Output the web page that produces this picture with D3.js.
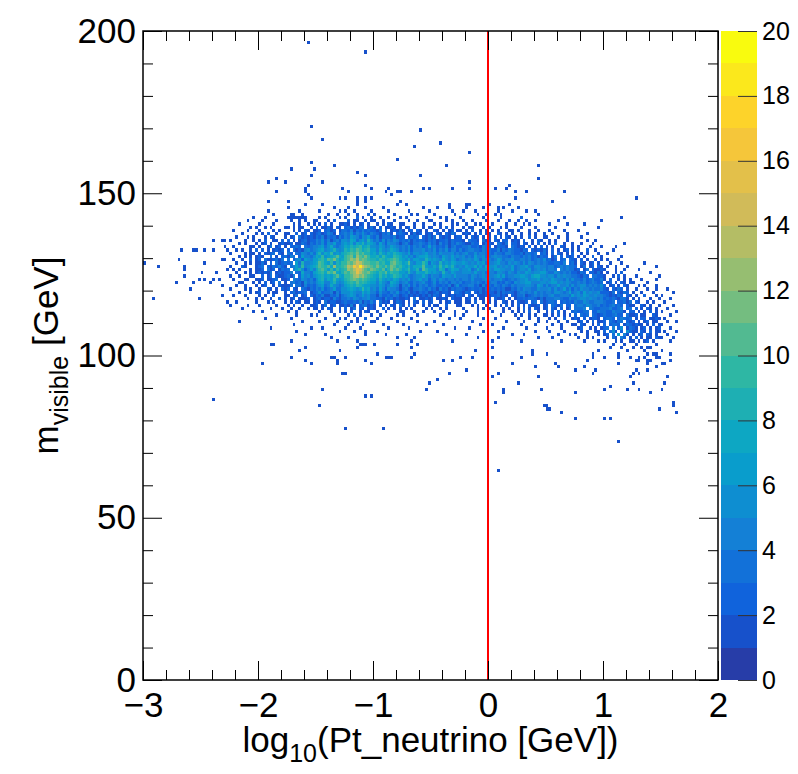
<!DOCTYPE html>
<html>
<head>
<meta charset="utf-8">
<script src="https://cdn.jsdelivr.net/npm/d3@7"></script>
<style>
  body { margin: 0; background: #fff; }
  text { font-family: "Liberation Sans", Arial, Helvetica, sans-serif; }
</style>
</head>
<body>
<div id="chart"></div>
<script>
/* CONSTANTS AND GLOBALS */
const width = 798;
const height = 774;
const frame = { left: 143, right: 718, top: 31, bottom: 680 };
const bar = { left: 721, right: 757 };

// histogram binning
const xMin = -3, xMax = 2, nBinsX = 200;
const yMin = 0, yMax = 200, nBinsY = 200;
const zMax = 20, nLevels = 20;

const xTicks = [-3, -2, -1, 0, 1, 2];
const yTicks = [0, 50, 100, 150, 200];
const zTicks = [0, 2, 4, 6, 8, 10, 12, 14, 16, 18, 20];

// ROOT kBird palette
const birdStops = [0.0, 0.125, 0.25, 0.375, 0.5, 0.625, 0.75, 0.875, 1.0];
const birdRed   = [0.2082, 0.0592, 0.0780, 0.0232, 0.1802, 0.5301, 0.8186, 0.9956, 0.9764];
const birdGreen = [0.1664, 0.3599, 0.5041, 0.6419, 0.7178, 0.7492, 0.7328, 0.7862, 0.9832];
const birdBlue  = [0.5293, 0.8684, 0.8385, 0.7914, 0.6425, 0.4662, 0.3499, 0.1968, 0.0539];

// bin counts, one string per y bin (from bin 146 down to 104), starting at x bin 30
// '.' = 0, '1'..'9', 'a' = 10 ... 'k' = 20 ; spaces only group 10 bins
const gridTopBin = 146;
const gridLeftBin = 30;
const gridRows = [
  ".......... .......... ......1... ..1....... ....1..... ........1. .1........ ......1... ...1...... .......... .......... .......... .......... .......... .......... ......",
  ".......... .......... 1......... ......1... .1.....1.. ...1...... .......1.. ..1....... ........1. .....1.... .......... .......... .......... .......... .......... ......",
  ".......... ...1...... ....1..... .1......1. 1..1.....1 .....1.... ..1......1 .......1.. .1...1.... ........1. ...1...... .......... .......... .......... .......... ......",
  ".......... .....1.... .11..1.... ....1..1.. .1..1...2. 1......1.. ...1.1.... .1......1. ......1..1 ..1....... .......1.. .......... .......... .......... .......... ......",
  "........1. ..1....... 1111111... .1.1....1. 1...2.1..1 ..1..1...1 .1......1. ...1.1.... 1.......1. ....1..... .1........ ......1... .......... .......... .......... ......",
  "......1... .1....1... .1..1.1..1 1...1.2... .2.11..1.1 1..1...1.. ..1..1...1 1....1.1.. .1..1....1 ...1...1.. 1.....1... ....1..... .........1 .......... .......... ......",
  "...1...... 1....1.... ..1.1..1.1 .1.2.1..11 21.1.12.1. .1.1.21..1 1...1..1.. .1.1...1.1 ..1..1.1.. .1....1..1 ..1.1..... .1.....1.. ...1...... .......... .......... ......",
  ".......1.1 ..1.1....1 1.1.11..1. 2.1131.21. 2312132.13 1.2.1121.1 .12.1..1.1 1..1.2.1.. .1.11...1. 1...1.1... .1....1... ...1...... ........1. .......... .......... ......",
  ".1....1... 1....1.1.. ..1.1.21.1 12.2312.13 3241324232 213.2.1213 1.12.21.1. .21.1.12.1 1.1.2..1.1 .1.1...11. 1...1..1.. .1....1... .1........ .......... .......... ......",
  "....1....1 .1.2..1..1 1..2.12.21 2312431.23 4352435324 3213241.23 21.1312.12 1.21.2132. .121.1.2.1 1..21.1.1. .1..1.1..1 ..1....1.. ....1..... .......... .......... ......",
  "..1...1.1. ..1.21...1 .12.312121 3241323142 4365425463 2413332412 2.1323.213 13.2121.12 2.1.212.1. 1.2.1.21.1 .1..2.1..1 1...1..1.. ..1....... .......... .......... ......",
  "1....1..1. 1.2..11.2. 2.1.123122 4352413425 5476356485 3425243542 3241323213 2312231322 21.3221.31 1.21.22.12 1.2..1.21. .1.1...1.. ....1..1.. .......... .......... ......",
  "...1.1...1 .12.1..121 12.1132132 4352546335 6574768576 5364254431 3421334324 2314231324 3211322.13 21.3213.22 1.21.1.2.1 .1.2..1..1 ..1...1... .......1.. .......... ......",
  ".1.....11. 1..13.12.1 .2232.3234 4563574345 7687896785 5465346543 4352434236 3423241342 2334223143 2.13221.32 121.2.1.2. 1.1..21..1 .1...1...1 ....1..... .......... ......",
  "..1.1..1.2 .2.1.1212. 2.31214534 5674568545 8798a97896 6475457653 4352444534 3524352442 4234433243 3224132432 2132.21213 1.2.1.12.1 .1..2..1.. ...1...... .......... ......",
  "1....1.11. 1.2123.21. 32.3254353 6857695657 89a9b9a886 7586576876 5463554564 4535444534 3453353443 3243324432 2313323.23 1.2.21.1.2 ..1.1...1. .1........ .......... ......",
  "...1.1.1.1 21..3.1.23 143.264435 7695678a76 9ab8ca9b97 7869766987 5645356675 4543654645 4534364453 3454433243 3243423132 2.13.2.212 .1.1..2..1 ......1... .......... ......",
  ".1..1..2.1 2.3112313. 3.24526546 6897a9b867 9acbdaba98 8798789a97 6574665586 5654754653 4545465354 4346534453 3443423435 2312.23.32 1.2.1..1.1 .1...1.... .......... ......",
  "..1..1.1.1 131.2.3123 23.6384456 7a97695879 9bacedbaa9 9a8977ab98 67a5466973 6548565765 5654546563 4456443545 4353543434 3223324.23 1.21.12.1. ..1...1... ....1..... ......",
  "1...21...1 23.2132421 .346494567 8a98a7c889 adcgeiecba 9b98a8ba89 7685777a65 5759686854 5465574647 5564545463 4556435544 3442343433 2.13.12.21 .1..1...1. ........1. ......",
  ".1.1...1.1 12.312.132 3.46852464 79a8696978 9cbdfeca9b a98a68b9a8 6795684a86 6648735766 4556347556 5466554463 4554634545 3443.43433 12.13.2112 1...1..1.. ..1....... ......",
  "..1..1.1.1 21213.1212 24.3274436 7897a9b768 a9bcfdbab9 8798a79886 6585476686 5654854654 4555464453 4435543543 5446545566 4335434342 2132.22131 .1..1.2... ......1... ......",
  "1..1...11. .2.13.2112 314.264535 6786768a76 99acdbca98 7697867987 5643455753 5443655464 4443543454 4456463445 5665467755 4553545443 32132.3322 1..1.2.1.. .1.......1 ......",
  ".1...11..1 12.1123.11 2.43254342 5785769656 89aba9a987 7586565764 5463456452 4535434434 3443533345 4344532343 4556455645 5465443535 3324234224 1.2..1.1.1 ...1....1. ......",
  "...11...1. 1.2.12.3.1 .342315343 5674468545 7898a89876 6475437653 4532434532 3524342443 4233434324 3442324325 4556644455 4566454543 3434234323 .12.1.21.1 1....1.... ......",
  "..1..1...1 .12..1.211 13.3314232 4563475434 6787987665 5465346541 4352424342 3422324135 2334423142 3243243243 4445543653 5344644535 3455343435 2.12.1.21. ..1.1...1. ......",
  "1....1.1.. 1..21.1.21 2.21.32132 4352346335 5676569674 5364254431 3421334324 2314231323 3212322313 2323231132 4354433544 4535346352 4354434334 21.2132.1. .1...1..1. ..1...",
  "...1...1.1 2..1.11..1 .231223.12 3523341425 5565447564 4253324352 3241213231 1231221.33 2132.21312 2213132321 3443435343 4435543463 4536454452 2213.2132. 1..1...1.. ....1.",
  ".1...1.... 1.1..2...1 1.13.12.21 3241132413 4565346453 3142232431 2312121213 1321.21212 21.21.2112 1223121.21 3341234343 3453344436 4546544544 3212132.21 .1..2...1. 1.....",
  "......1..1 .1..1..2.1 .12.1112.1 2312214213 3435434453 3221423121 121.3.1121 2.1121.211 1.12.1.11. 1.2112.1.1 2232332131 3334432243 3455454434 232321331. 1.1...1..1 ...1..",
  "..1......1 ...1.1...1 .1.21.11.1 21.3122112 3223241324 2.3121.132 1.1.21.2.1 2..1.12.11 1.11.2..1. 1.1..21.1. 2112.23.31 2332.23232 4335433444 3223.22313 .21..1.1.. .1....",
  "1.....1... 1.....1... 1.1..1..11 2.13.12.11 2141.23312 1.2.1.21.3 1.2.1..1.1 .11..2...1 1...1.1..1 ..1.1.2.1. 2.1.2112.1 2.3213.22. 3443543342 3234232.21 1..21.1..1 ....1.",
  "....1..... ....1...1. .1..1..1.1 1.1.21..1. 2.13.21.12 1..2.1.1.1 .1.1....1. 1..1.1.... .1....1.1. 1....1.1.. 1.2.1.21.1 2.21.2.13. 3334.43223 3342234.23 .2.1.21.1. ..1...",
  "........1. .1........ 1..1...... .1...1..1. 1.2..1.21. .1..1....1 1...1..1.. .1..1...1. ..1...1... .1...1..1. 1.1.2..1.. 1.2.2.1..2 32233.2243 32243331.2 2.1.1.2.1. 1....1",
  ".......... ......1... ...1....1. 1.....1... .1.2.1...1 ..1.....1. 1....1.... ...1....1. .1....1... ....1....1 .1..1.1..1 1.1.2.1.1. 2.323.3212 3223422.31 12.11..21. ...1..",
  ".......... ..1....... .1........ ...1....1. 1...1..2.. .1....1... ...1...... ......1... 1.......1. ..1....... 1...1..1.. .1.1..2..1 21.2.1221. 2332.24323 .1.22.1121 .1....",
  "...1...... .......... .....1.... .1.....1.. ..1.1....1 1.......1. .....1.... .1........ ....1..... ......1... ..1....1.. 1...1..1.. .12.1.2.11 2.32133.21 2.1.12.11. ..1..1",
  ".......... .......... ..1....... ......1... .1....1... ...1...... 1.......1. ....1..... .......1.. .1........ .1....1... ..1..1...1 1.21..1.2. 2.2332.132 1211.1.2.1 1.....",
  ".......... ....1..... ........1. ..1....... 1....1.... .....1.... ..1....... ........1. ...1...... .....1.... ...1...... 1....1.... .12..1.1.1 23.4.25.13 21.12.1.12 ...1..",
  ".......... .......... ...1...... ........1. ...1...1.. .1........ ......1... ..1....... ........1. ...1...... ......1... .1....1... ..1.1..11. 2.351.2.52 11.21.2.11 .1...1",
  ".......... .......... ......1... ...1...... .......1.. ....1..... .1........ .....1.... ..1....... ........1. ..1....... ....1...1. 1...1...1. 12.3.6.41. 1.12.21.1. ..1...",
  ".......... .......... .......... .....1.... .1........ ........1. ....1..... .......... ......1... ...1...... .......1.. ..1....... .1..1.1... .1.31.42.1 .2.1.11.21 1...1.",
  ".......... .......... .1........ .......1.. ....1..... .......... ...1...... .......1.. .......... .1........ .1........ .....1.... ...1....1. 1...1.1..1 1.1.12.1.. ...1.."
];

// isolated single-entry bins outside the block above: [x bin, y bin]
const singleBins = [
  // high tail
  [57,196],[77,193],[58,170],[96,169],[62,166],[103,165],[94,164],[113,162],[88,160],[58,159],
  [66,158],[105,158],[137,158],[51,157],[59,157],[74,156],[58,155],[77,155],[96,155],[46,154],
  [137,154],[43,153],[49,153],[62,153],[113,153],[57,152],[77,152],[127,152],[56,151],[69,151],
  [79,151],[85,151],[97,151],[99,151],[107,151],[113,151],[122,151],[126,151],[46,150],[56,150],
  [71,150],[84,150],[88,150],[89,150],[93,150],[129,150],[133,150],[146,150],[57,149],[86,149],
  [58,148],[68,148],[70,148],[74,148],[77,148],[79,148],[129,148],[171,148],
  [43,147],[50,147],[74,147],[77,147],[89,147],[142,147],
  [112,146],[120,146],[127,146],[106,145],[112,145],[123,145],[130,145],[123,144],[136,144],
  [124,143],[131,142],[166,142],[133,141],
  // far left
  [0,128],[5,127],[3,117],[11,122],[12,129],[13,132],[14,127],[14,126],[14,124],[17,132],
  [18,132],[17,122],[16,120],[19,117],[20,125],[19,123],[21,123],[21,128],[21,132],[23,122],
  [24,132],[24,135],[24,123],[25,125],[26,123],[27,135],[28,135],[27,129],[28,129],[27,118],
  [28,133],[29,132],[27,121],[29,116],[29,126],[24,86],
  // low tail, left of zero
  [44,103],[45,103],[75,103],[76,103],[77,103],[80,103],[88,103],[95,103],
  [56,102],[74,102],[93,102],[54,101],[68,101],[115,101],[81,100],[94,100],
  [51,99],[65,99],[66,99],[70,99],[84,99],[85,99],[86,99],[93,99],[110,99],[114,99],
  [56,98],[67,98],[77,98],[104,98],[107,98],[41,97],[58,97],[67,97],[79,97],
  [112,95],[69,94],[70,94],[106,94],[102,92],[99,91],[62,89],[98,89],[77,87],[79,87],
  [61,84],[70,77],[83,77],
  // low tail, right of zero
  [121,102],[135,101],[135,100],[140,100],[121,99],[131,99],[128,97],[143,97],[136,96],[144,96],
  [123,94],[121,93],[137,93],[130,91],[125,89],[138,89],[125,88],[122,85],[139,84],[140,84],
  [140,83],[141,83],[145,82],[123,64],
  [163,103],[167,103],[171,103],[178,103],[162,102],[166,102],[170,102],[173,102],[175,102],[176,102],
  [158,101],[168,101],[174,101],[180,101],[156,100],[165,100],[175,100],[177,100],[178,100],[183,100],
  [156,99],[160,99],[165,99],[169,99],[172,99],[174,99],[178,99],[179,99],
  [154,98],[171,98],[172,98],[175,98],[176,98],[183,98],[165,97],[175,97],[180,97],[181,97],
  [153,96],[178,96],[150,95],[157,95],[171,95],[175,95],[156,94],[170,94],[172,94],[169,93],
  [182,93],[170,91],[181,91],[162,90],[160,89],[168,89],[172,89],[180,89],[150,88],[176,88],
  [184,85],[184,84],[179,83],[185,82],[150,80],[160,80],[162,80],[165,73]
];


// BUILD BIN CONTENTS ########################################
const counts = new Map();
const addCount = (ix, iy, c) => {
  const key = ix + "," + iy;
  counts.set(key, (counts.get(key) || 0) + c);
};

gridRows.forEach((row, r) => {
  const chars = row.replace(/ /g, "");
  for (let k = 0; k < chars.length; k++) {
    const ch = chars[k];
    if (ch === ".") continue;
    const c = ch >= "a" ? ch.charCodeAt(0) - 87 : +ch;
    addCount(gridLeftBin + k, gridTopBin - r, c);
  }
});
singleBins.forEach(([ix, iy]) => addCount(ix, iy, 1));

const bins = Array.from(counts, ([key, c]) => {
  const [ix, iy] = key.split(",").map(Number);
  return { ix, iy, c };
});


// SCALES ####################################################
const xScale = d3.scaleLinear().domain([xMin, xMax]).range([frame.left, frame.right]);
const yScale = d3.scaleLinear().domain([yMin, yMax]).range([frame.bottom, frame.top]);
const zScale = d3.scaleLinear().domain([0, zMax]).range([frame.bottom, frame.top]);

const xBinW = (xMax - xMin) / nBinsX;
const yBinW = (yMax - yMin) / nBinsY;

// palette colour at position t in [0,1]
function birdColor(t) {
  let s = 1;
  while (s < birdStops.length - 1 && t > birdStops[s]) s++;
  const f = (t - birdStops[s - 1]) / (birdStops[s] - birdStops[s - 1]);
  const mix = a => Math.round(255 * (a[s - 1] + (a[s] - a[s - 1]) * f));
  return d3.rgb(mix(birdRed), mix(birdGreen), mix(birdBlue)).formatHex();
}
// colour of contour level i, the way ROOT picks it from 255 colours
const levelColor = i => birdColor(Math.floor((i + 0.99) * 255 / nLevels) / 254);
const levelOf = c => Math.min(Math.floor(c * nLevels / zMax), nLevels - 1);


// CREATE MAIN SVG ELEMENT ###################################
const svg = d3.select("#chart")
  .append("svg")
  .attr("width", width)
  .attr("height", height);

// bins
svg.append("g")
  .attr("shape-rendering", "crispEdges")
  .selectAll("rect")
  .data(bins)
  .join("rect")
    .attr("x", d => xScale(xMin + d.ix * xBinW))
    .attr("width", d => xScale(xMin + (d.ix + 1) * xBinW) - xScale(xMin + d.ix * xBinW))
    .attr("y", d => yScale(yMin + (d.iy + 1) * yBinW))
    .attr("height", d => yScale(yMin + d.iy * yBinW) - yScale(yMin + (d.iy + 1) * yBinW))
    .attr("fill", d => levelColor(levelOf(d.c)));

// red line at x = 0
svg.append("line")
  .attr("x1", xScale(0)).attr("x2", xScale(0))
  .attr("y1", frame.top).attr("y2", frame.bottom)
  .attr("stroke", "#ff0000")
  .attr("stroke-width", 2);


// AXES ######################################################
const xMinor = d3.range(xMin, xMax + 1e-9, 0.2).filter(v => Math.abs(v - Math.round(v)) > 1e-6);
const yMinor = d3.range(yMin, yMax + 1e-9, 10).filter(v => v % 50 !== 0);

function styleAxis(g) {
  g.select(".domain").remove();
  g.selectAll(".tick line").attr("stroke", "#000").attr("stroke-width", 1);
  g.selectAll("text").attr("font-size", 35).attr("fill", "#000")
    .attr("font-family", "'Liberation Sans', Arial, Helvetica, sans-serif");
}

// bottom
svg.append("g")
  .attr("transform", `translate(0,${frame.bottom})`)
  .call(d3.axisBottom(xScale).tickValues(xTicks).tickSizeInner(-19).tickSizeOuter(0)
    .tickPadding(12).tickFormat(d => d < 0 ? "\u2212" + Math.abs(d) : d))
  .call(styleAxis);
svg.append("g")
  .attr("transform", `translate(0,${frame.bottom})`)
  .call(d3.axisBottom(xScale).tickValues(xMinor).tickSizeInner(-10).tickSizeOuter(0).tickFormat(""))
  .call(styleAxis);

// top
svg.append("g")
  .attr("transform", `translate(0,${frame.top})`)
  .call(d3.axisTop(xScale).tickValues(xTicks).tickSizeInner(-19).tickSizeOuter(0).tickFormat(""))
  .call(styleAxis);
svg.append("g")
  .attr("transform", `translate(0,${frame.top})`)
  .call(d3.axisTop(xScale).tickValues(xMinor).tickSizeInner(-10).tickSizeOuter(0).tickFormat(""))
  .call(styleAxis);

// left
svg.append("g")
  .attr("transform", `translate(${frame.left},0)`)
  .call(d3.axisLeft(yScale).tickValues(yTicks).tickSizeInner(-19).tickSizeOuter(0).tickPadding(7))
  .call(styleAxis);
svg.append("g")
  .attr("transform", `translate(${frame.left},0)`)
  .call(d3.axisLeft(yScale).tickValues(yMinor).tickSizeInner(-10).tickSizeOuter(0).tickFormat(""))
  .call(styleAxis);

// right
svg.append("g")
  .attr("transform", `translate(${frame.right},0)`)
  .call(d3.axisRight(yScale).tickValues(yTicks).tickSizeInner(-19).tickSizeOuter(0).tickFormat(""))
  .call(styleAxis);
svg.append("g")
  .attr("transform", `translate(${frame.right},0)`)
  .call(d3.axisRight(yScale).tickValues(yMinor).tickSizeInner(-10).tickSizeOuter(0).tickFormat(""))
  .call(styleAxis);

// frame
svg.append("rect")
  .attr("x", frame.left).attr("y", frame.top)
  .attr("width", frame.right - frame.left)
  .attr("height", frame.bottom - frame.top)
  .attr("fill", "none")
  .attr("stroke", "#000")
  .attr("stroke-width", 1.5);


// PALETTE ###################################################
svg.append("g")
  .attr("shape-rendering", "crispEdges")
  .selectAll("rect")
  .data(d3.range(nLevels))
  .join("rect")
    .attr("x", bar.left)
    .attr("width", bar.right - bar.left)
    .attr("y", i => zScale((i + 1) * zMax / nLevels))
    .attr("height", i => zScale(i * zMax / nLevels) - zScale((i + 1) * zMax / nLevels))
    .attr("fill", i => levelColor(i));

svg.append("g")
  .attr("transform", `translate(${bar.right},0)`)
  .call(d3.axisRight(zScale).tickValues(zTicks).tickSizeInner(-19).tickSizeOuter(0).tickPadding(5))
  .call(g => {
    g.select(".domain").remove();
    g.selectAll(".tick line").attr("stroke", "#333");
    g.selectAll("text").attr("font-size", 25).attr("fill", "#000")
      .attr("font-family", "'Liberation Sans', Arial, Helvetica, sans-serif");
  });


// AXIS TITLES ###############################################
const xTitle = svg.append("text")
  .attr("x", (frame.left + frame.right) / 2)
  .attr("y", 752)
  .attr("text-anchor", "middle")
  .attr("font-size", 35);
xTitle.append("tspan").text("log");
xTitle.append("tspan").attr("dy", 10).attr("font-size", 25).text("10");
xTitle.append("tspan").attr("dy", -10).text("(Pt_neutrino [GeV])");

const yTitle = svg.append("text")
  .attr("transform", `translate(58,${(frame.top + frame.bottom) / 2}) rotate(-90)`)
  .attr("text-anchor", "middle")
  .attr("font-size", 35);
yTitle.append("tspan").text("m");
yTitle.append("tspan").attr("dy", 10).attr("font-size", 25).text("visible");
yTitle.append("tspan").attr("dy", -10).text(" [GeV]");
</script>
</body>
</html>
